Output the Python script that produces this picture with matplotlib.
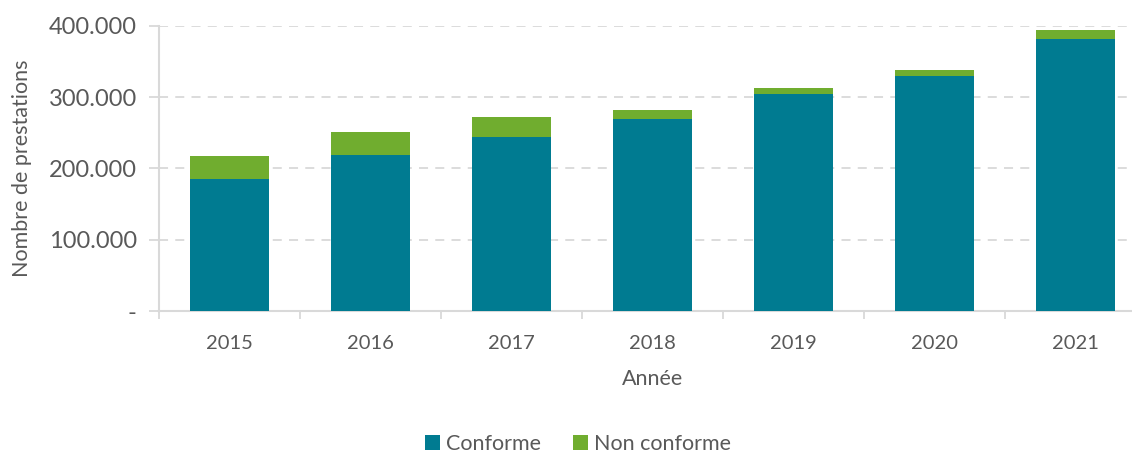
import numpy as np
import matplotlib.pyplot as plt
from matplotlib.ticker import FuncFormatter, FixedLocator

plt.rcParams['font.family'] = ['Lato', 'DejaVu Sans']

# Données
annees = ["2015", "2016", "2017", "2018", "2019", "2020", "2021"]
conforme = [185000, 219000, 244500, 270000, 304000, 330000, 381000]
non_conforme = [32000, 32000, 27500, 12000, 9000, 8500, 13000]

teal = "#007B91"
green = "#70AD2F"
grid_col = "#D9D9D9"
txt = "#595959"

fig = plt.figure(figsize=(11.32, 4.53), dpi=100)
ax = fig.add_axes([159 / 1132, 1 - 311.3 / 453, (1146 - 159) / 1132, (311.3 - 25.7) / 453])

x = np.arange(len(annees))
w = 0.56
ax.bar(x, conforme, w, color=teal, label="Conforme", zorder=3)
ax.bar(x, non_conforme, w, bottom=conforme, color=green, label="Non conforme", zorder=3)

ax.set_xlim(-0.5, len(annees) - 0.5)
ax.set_ylim(0, 400000)
ax.set_yticks([0, 100000, 200000, 300000, 400000])


def fmt(v, pos):
    if v == 0:
        return "-"
    return f"{int(v):,}".replace(",", ".")


ax.yaxis.set_major_formatter(FuncFormatter(fmt))
ax.yaxis.grid(True, color=grid_col, linestyle=(0, (5, 4)), linewidth=1.3, zorder=0)

ax.set_xticks(x)
ax.set_xticklabels(annees)
ax.xaxis.set_minor_locator(FixedLocator(np.arange(-0.5, len(annees), 1.0)))
ax.tick_params(axis='x', which='major', length=0, pad=17, labelsize=14.5, labelcolor=txt)
ax.tick_params(axis='x', which='minor', length=6, color=grid_col, width=1.3)
ax.tick_params(axis='y', length=7, color=grid_col, width=1.3, labelsize=17, labelcolor=txt, pad=9)

for s in ['top', 'right']:
    ax.spines[s].set_visible(False)
for s in ['left', 'bottom']:
    ax.spines[s].set_color(grid_col)
    ax.spines[s].set_linewidth(1.5)

ax.set_xlabel("Année", fontsize=15.5, color=txt, labelpad=12)
ax.set_ylabel("Nombre de prestations", fontsize=15.5, color=txt, labelpad=12)

fig.legend(loc='center', bbox_to_anchor=(578 / 1132, 1 - 444 / 453), ncol=2, frameon=False,
           fontsize=15.5, labelcolor=txt, handlelength=0.7, handleheight=0.7,
           handletextpad=0.25, columnspacing=1.5)

fig.savefig("out.png", dpi=100)
